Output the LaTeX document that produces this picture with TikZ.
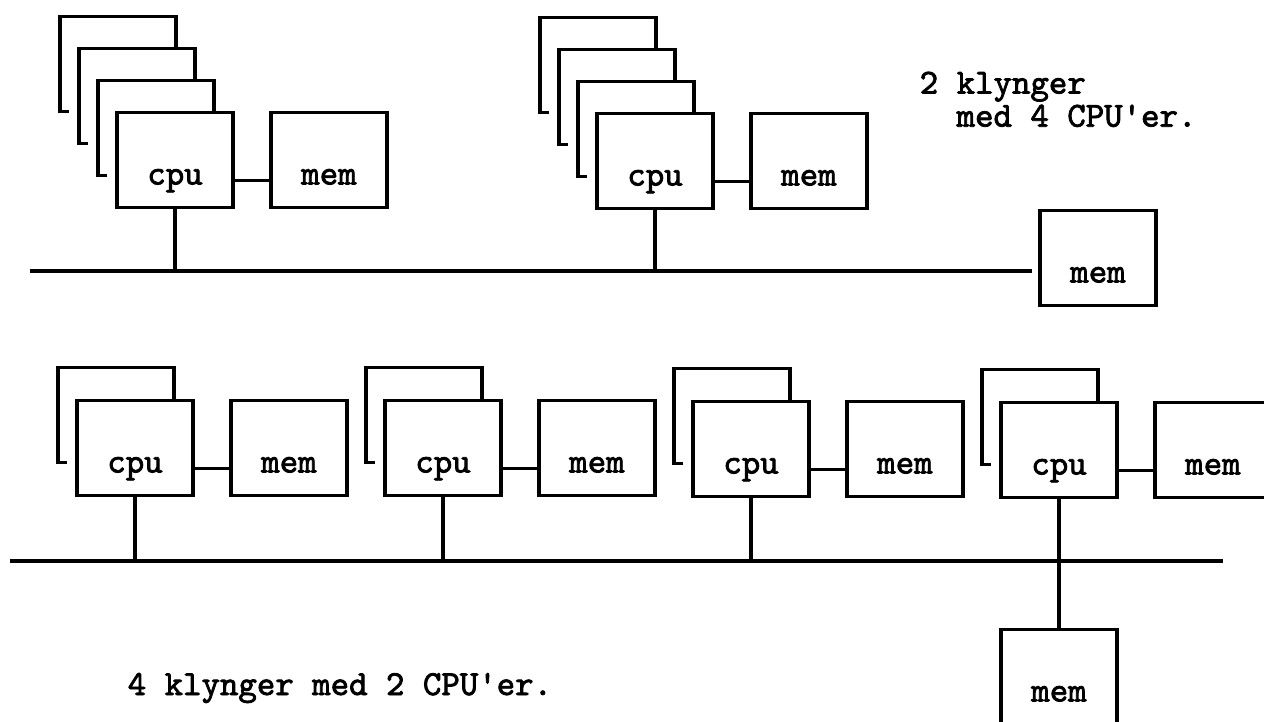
\documentclass[tikz,border=0pt]{standalone}
\usepackage{fontspec}
\setmonofont{lmmono10-regular}[Extension=.otf,AutoFakeBold=2.2]
\usetikzlibrary{positioning}

\begin{document}
\begin{tikzpicture}[
  x=0.02cm,y=-0.02cm,
  line width=2pt,
  node distance=0.76cm,
  unit/.style={draw,inner sep=0pt,outer sep=0pt,
    minimum width=2.32cm,minimum height=1.9cm,
    text height=1.44cm,text depth=0.46cm,
    font=\ttfamily\bfseries\fontsize{20}{18.8}\selectfont},
  note/.style={inner sep=0pt,align=left,
    font=\ttfamily\bfseries\fontsize{20}{18.8}\selectfont},
  wire/.style={line width=2pt}
]
  \useasboundingbox (0,0) rectangle (1264,722);

  % top: 2 clusters with 4 cpus
  \node[unit] (cpuA) at (175,160) {cpu};
  \node[unit,right=of cpuA] (memA) {mem};
  \node[unit] (cpuB) at (655,161) {cpu};
  \node[unit,right=of cpuB] (memB) {mem};
  \node[unit] (memG) at (1098,258) {mem};
  \foreach \k in {1,2,3} {
    \draw[wire] ([shift={(-19*\k+9,-32*\k)}]cpuA.south west) -- ++(-9,0)
      |- ([shift={(-19*\k,-32*\k)}]cpuA.north east) -- ++(0,32);
    \draw[wire] ([shift={(-19*\k+9,-32*\k)}]cpuB.south west) -- ++(-9,0)
      |- ([shift={(-19*\k,-32*\k)}]cpuB.north east) -- ++(0,32);
  }
  \draw[wire] (cpuA.mid east) -- (memA.mid west);
  \draw[wire] (cpuB.mid east) -- (memB.mid west);
  \coordinate (busAw) at (30,271);
  \coordinate (busAe) at (1032,271);
  \draw[wire] (busAw) -- (busAe);
  \draw[wire] (cpuA.south) -- (cpuA.south |- busAw);
  \draw[wire] (cpuB.south) -- (cpuB.south |- busAw);
  \node[note,anchor=north west] (capA) at (918,70)
    {2 klynger\\\hspace*{1.05em}med 4 CPU'er.};

  % bottom: 4 clusters with 2 cpus
  \node[unit] (cpu1) at (135,448) {cpu};
  \node[unit,right=of cpu1] (mem1) {mem};
  \node[unit] (cpu2) at (443,448) {cpu};
  \node[unit,right=of cpu2] (mem2) {mem};
  \node[unit] (cpu3) at (751,449) {cpu};
  \node[unit,right=of cpu3] (mem3) {mem};
  \node[unit] (cpu4) at (1059,450) {cpu};
  \node[unit,right=of cpu4] (mem4) {mem};
  \node[unit,below=2.64cm of cpu4] (memH) {mem};
  \foreach \c in {cpu1,cpu2,cpu3,cpu4}
    \draw[wire] ([shift={(-10,-33)}]\c.south west) -- ++(-9,0)
      |- ([shift={(-19,-33)}]\c.north east) -- ++(0,33);
  \draw[wire] (cpu1.mid east) -- (mem1.mid west);
  \draw[wire] (cpu2.mid east) -- (mem2.mid west);
  \draw[wire] (cpu3.mid east) -- (mem3.mid west);
  \draw[wire] (cpu4.mid east) -- (mem4.mid west);
  \coordinate (busBw) at (10,561);
  \coordinate (busBe) at (1223,561);
  \draw[wire] (busBw) -- (busBe);
  \draw[wire] (cpu1.south) -- (cpu1.south |- busBw);
  \draw[wire] (cpu2.south) -- (cpu2.south |- busBw);
  \draw[wire] (cpu3.south) -- (cpu3.south |- busBw);
  \draw[wire] (cpu4.south) -- (memH.north);
  \node[note,anchor=base west] (capB) at (126,695) {4 klynger med 2 CPU'er.};
\end{tikzpicture}
\end{document}
